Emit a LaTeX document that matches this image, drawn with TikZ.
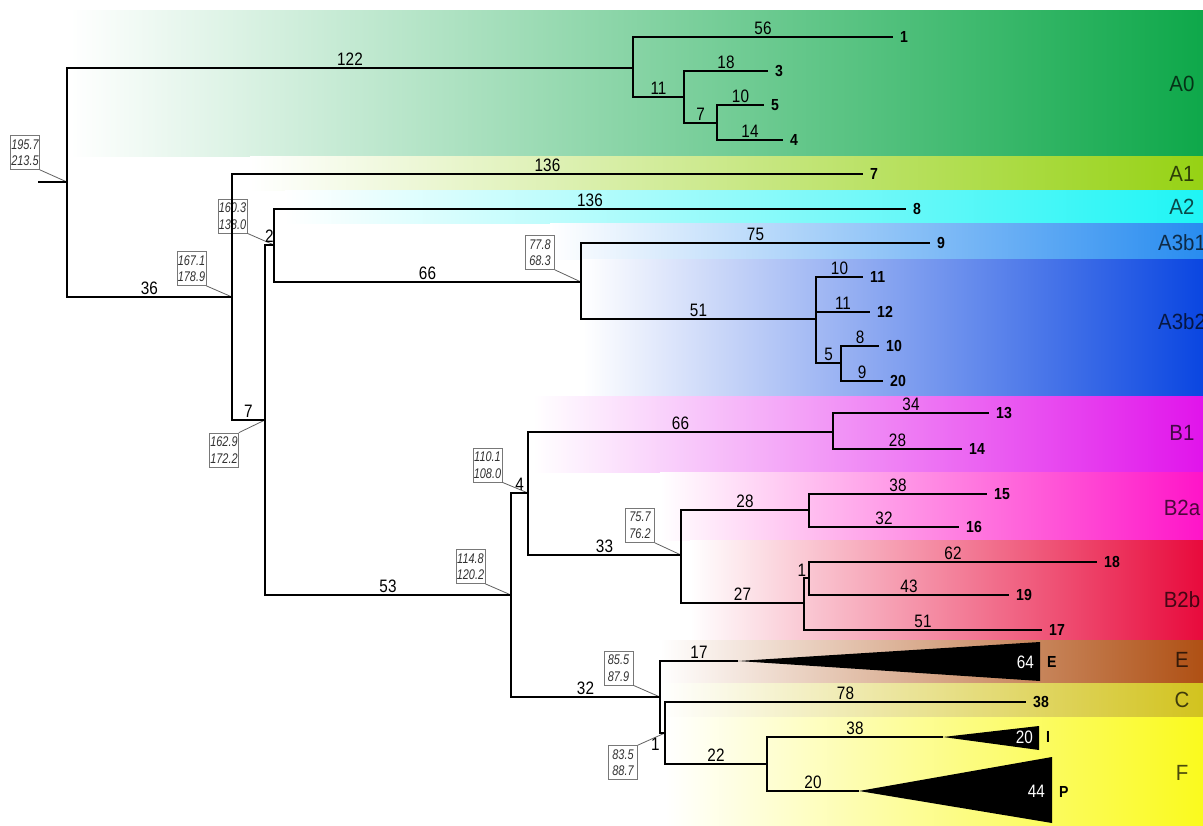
\documentclass[tikz,border=0pt]{standalone}
\usepackage{fontspec}
\setmainfont{Liberation Sans}
\newfontfamily\nsans[FakeStretch=0.85]{Liberation Sans}
\newfontfamily\csans[FakeStretch=0.93]{Liberation Sans}
\newfontfamily\bsans[FakeStretch=0.88]{Liberation Sans}
\newfontfamily\isans[FakeStretch=0.78]{Liberation Sans}
\definecolor{cAzero}{RGB}{14,168,74}
\definecolor{cAone}{RGB}{150,210,20}
\definecolor{cAtwo}{RGB}{30,245,245}
\definecolor{cAthbone}{RGB}{40,140,240}
\definecolor{cAthbtwo}{RGB}{10,70,225}
\definecolor{cBone}{RGB}{225,20,235}
\definecolor{cBtwoa}{RGB}{255,20,200}
\definecolor{cBtwob}{RGB}{232,10,60}
\definecolor{cE}{RGB}{175,80,20}
\definecolor{cC}{RGB}{210,195,30}
\definecolor{cF}{RGB}{250,250,30}
\definecolor{boxgray}{RGB}{120,120,120}
\definecolor{boxtext}{RGB}{50,50,50}
\tikzset{
  edge/.style={line width=1.8pt, black},
  blfont/.style={font=\nsans\fontsize{18}{18}\selectfont},
  bl/.style={blfont, inner sep=1pt, above=0.2pt},
  leaf/.style={font=\bsans\bfseries\fontsize{16}{16}\selectfont, anchor=west, inner sep=0pt, xshift=7pt},
  tri/.style={fill=black},
  wnum/.style={blfont, text=white, anchor=east, inner sep=0pt},
  cbox/.style={draw=boxgray, fill=white, line width=0.7pt, font=\isans\itshape\fontsize{14}{16.5}\selectfont, text=boxtext, align=center, inner sep=0pt, minimum width=29pt, minimum height=34pt},
  lead/.style={draw=boxgray!80!black, line width=0.8pt},
  clade/.style={font=\csans\fontsize{22}{22}\selectfont, text=black, text opacity=0.7, inner sep=0pt}
}
\begin{document}
\begin{tikzpicture}[x=1pt,y=-1pt]
\useasboundingbox (0,0) rectangle (1203,826);
% bands
\shade[left color=white, right color=cAzero] (70,11) rectangle (1203,157);
\shade[left color=white, right color=cAone] (250,157) rectangle (1203,191);
\shade[left color=white, right color=cAtwo] (285,191) rectangle (1203,224);
\shade[left color=white, right color=cAthbone] (550,224) rectangle (1203,260);
\shade[left color=white, right color=cAthbtwo] (583,260) rectangle (1203,397);
\shade[left color=white, right color=cBone] (533,397) rectangle (1203,472);
\shade[left color=white, right color=cBtwoa] (660,472) rectangle (1203,540);
\shade[left color=white, right color=cBtwob] (690,540) rectangle (1203,640);
\shade[left color=white, right color=cE] (660,640) rectangle (1203,683);
\shade[left color=white, right color=cC] (660,683) rectangle (1203,717);
\shade[left color=white, right color=cF] (665,717) rectangle (1203,826);
% clade labels
\node[clade] (LA0) at (1182,84) {A0};
\node[clade] (LA1) at (1182,174) {A1};
\node[clade] (LA2) at (1182,207) {A2};
\node[clade] (LA3b1) at (1182,243) {A3b1};
\node[clade] (LA3b2) at (1182,322) {A3b2};
\node[clade] (LB1) at (1182,433) {B1};
\node[clade] (LB2a) at (1182,508) {B2a};
\node[clade] (LB2b) at (1182,600) {B2b};
\node[clade] (LE) at (1182,660) {E};
\node[clade] (LC) at (1182,700) {C};
\node[clade] (LF) at (1182,773) {F};
% coordinates
\coordinate (stub) at (38,182);
\coordinate (R) at (67,182);
\coordinate (nA0) at (633,68);
\coordinate (n11) at (684,97);
\coordinate (n7a) at (717,123);
\coordinate (t1) at (893,37);
\coordinate (t3) at (768,71);
\coordinate (t5) at (764,105);
\coordinate (t4) at (783,140);
\coordinate (n36) at (232,297);
\coordinate (t7) at (863,174);
\coordinate (n7b) at (265,420);
\coordinate (n2) at (274,245);
\coordinate (t8) at (906,209);
\coordinate (n66) at (581,282);
\coordinate (t9) at (930,243);
\coordinate (n51) at (816,319);
\coordinate (t11) at (863,277);
\coordinate (t12) at (870,312);
\coordinate (n5) at (841,363);
\coordinate (t10) at (879,346);
\coordinate (t20) at (883,381);
\coordinate (n53) at (511,595);
\coordinate (n4) at (528,493);
\coordinate (nB1) at (833,432);
\coordinate (t13) at (989,413);
\coordinate (t14) at (962,449);
\coordinate (n33) at (681,555);
\coordinate (nB2a) at (809,510);
\coordinate (t15) at (987,494);
\coordinate (t16) at (959,527);
\coordinate (nB2b) at (804,603);
\coordinate (n1b) at (809,578);
\coordinate (t18) at (1097,562);
\coordinate (t19) at (1009,595);
\coordinate (t17) at (1042,630);
\coordinate (n32) at (660,697);
\coordinate (aE) at (738,661);
\coordinate (eT) at (1040,642);
\coordinate (eB) at (1040,681);
\coordinate (n1c) at (665,733);
\coordinate (tC) at (1026,702);
\coordinate (n22) at (767,764);
\coordinate (aI) at (943,737);
\coordinate (iT) at (1039,726);
\coordinate (iB) at (1039,750);
\coordinate (aP) at (859,791);
\coordinate (pT) at (1052,757);
\coordinate (pB) at (1052,823);
% boxes
\node[cbox] (b1) at (25,152.5) {195.7\\213.5};
\node[cbox] (b2) at (191.5,268.5) {167.1\\178.9};
\node[cbox] (b3) at (232.5,216) {160.3\\138.0};
\node[cbox] (b4) at (224,450) {162.9\\172.2};
\node[cbox] (b5) at (540,252.5) {77.8\\68.3};
\node[cbox] (b6) at (487.5,465) {110.1\\108.0};
\node[cbox] (b7) at (470.5,566.5) {114.8\\120.2};
\node[cbox] (b8) at (640,525.5) {75.7\\76.2};
\node[cbox] (b9) at (618.5,668) {85.5\\87.9};
\node[cbox] (b10) at (623,762.5) {83.5\\88.7};
% leaders
\draw[lead] (b1.south east) -- (R);
\draw[lead] (b2.south east) -- (n36);
\draw[lead] (b3.south east) -- (n2);
\draw[lead] (b4.north east) -- (n7b);
\draw[lead] (b5.south east) -- (n66);
\draw[lead] (b6.south east) -- (n4);
\draw[lead] (b7.south east) -- (n53);
\draw[lead] (b8.south east) -- (n33);
\draw[lead] (b9.south east) -- (n32);
\draw[lead] (b10.north east) -- (n1c);
% edges
\draw[edge] (stub) -- (R);
\draw[edge] (R) |- node[bl,pos=.75]{122} (nA0);
\draw[edge] (nA0) |- node[bl,pos=.75]{56} (t1);
\draw[edge] (nA0) |- node[bl,pos=.75]{11} (n11);
\draw[edge] (n11) |- node[bl,pos=.75]{18} (t3);
\draw[edge] (n11) |- node[bl,pos=.75]{7} (n7a);
\draw[edge] (n7a) |- node[bl,pos=.75]{10} (t5);
\draw[edge] (n7a) |- node[bl,pos=.75]{14} (t4);
\draw[edge] (R) |- node[bl,pos=.75]{36} (n36);
\draw[edge] (n36) |- node[bl,pos=.75]{136} (t7);
\draw[edge] (n36) |- node[bl,pos=.75]{7} (n7b);
\draw[edge] (n7b) |- node[bl,pos=.75]{2} (n2);
\draw[edge] (n2) |- node[bl,pos=.75]{136} (t8);
\draw[edge] (n2) |- node[bl,pos=.75]{66} (n66);
\draw[edge] (n66) |- node[bl,pos=.75]{75} (t9);
\draw[edge] (n66) |- node[bl,pos=.75]{51} (n51);
\draw[edge] (n51) |- node[bl,pos=.75]{10} (t11);
\draw[edge] (n51) |- node[bl,pos=.75]{11} (t12);
\draw[edge] (n51) |- node[bl,pos=.75]{5} (n5);
\draw[edge] (n5) |- node[bl,pos=.75]{8} (t10);
\draw[edge] (n5) |- node[bl,pos=.75]{9} (t20);
\draw[edge] (n7b) |- node[bl,pos=.75]{53} (n53);
\draw[edge] (n53) |- node[bl,pos=.75]{4} (n4);
\draw[edge] (n4) |- node[bl,pos=.75]{66} (nB1);
\draw[edge] (nB1) |- node[bl,pos=.75]{34} (t13);
\draw[edge] (nB1) |- node[bl,pos=.75]{28} (t14);
\draw[edge] (n4) |- node[bl,pos=.75]{33} (n33);
\draw[edge] (n33) |- node[bl,pos=.75]{28} (nB2a);
\draw[edge] (nB2a) |- node[bl,pos=.75]{38} (t15);
\draw[edge] (nB2a) |- node[bl,pos=.75]{32} (t16);
\draw[edge] (n33) |- node[bl,pos=.75]{27} (nB2b);
\draw[edge] (nB2b) |- node[blfont,pos=.75,anchor=south east,inner sep=1pt,xshift=1.5pt]{1} (n1b);
\draw[edge] (n1b) |- node[bl,pos=.75]{62} (t18);
\draw[edge] (n1b) |- node[bl,pos=.75]{43} (t19);
\draw[edge] (nB2b) |- node[bl,pos=.75]{51} (t17);
\draw[edge] (n53) |- node[bl,pos=.75]{32} (n32);
\draw[edge] (n32) |- node[bl,pos=.75]{17} (aE);
\draw[edge] (n32) |- node[blfont,pos=.75,anchor=north east,inner sep=1pt,yshift=-3pt,xshift=-1pt]{1} (n1c);
\draw[edge] (n1c) |- node[bl,pos=.75]{78} (tC);
\draw[edge] (n1c) |- node[bl,pos=.75]{22} (n22);
\draw[edge] (n22) |- node[bl,pos=.75]{38} (aI);
\draw[edge] (n22) |- node[bl,pos=.75]{20} (aP);
% collapsed clades
\fill[tri] (aE) -- (eT) -- (eB) -- cycle;
\fill[tri] (aI) -- (iT) -- (iB) -- cycle;
\fill[tri] (aP) -- (pT) -- (pB) -- cycle;
\node[wnum] (wE) at (1034,662) {64};
\node[wnum] (wI) at (1033,737) {20};
\node[wnum] (wP) at (1045,791) {44};
% leaf labels
\node[leaf] (l1) at (t1) {1};
\node[leaf] (l3) at (t3) {3};
\node[leaf] (l5) at (t5) {5};
\node[leaf] (l4) at (t4) {4};
\node[leaf] (l7) at (t7) {7};
\node[leaf] (l8) at (t8) {8};
\node[leaf] (l9) at (t9) {9};
\node[leaf] (l11) at (t11) {11};
\node[leaf] (l12) at (t12) {12};
\node[leaf] (l10) at (t10) {10};
\node[leaf] (l20) at (t20) {20};
\node[leaf] (l13) at (t13) {13};
\node[leaf] (l14) at (t14) {14};
\node[leaf] (l15) at (t15) {15};
\node[leaf] (l16) at (t16) {16};
\node[leaf] (l18) at (t18) {18};
\node[leaf] (l19) at (t19) {19};
\node[leaf] (l17) at (t17) {17};
\node[leaf] (lC) at (tC) {38};
\node[leaf] (lE) at (1040,662) {E};
\node[leaf] (lI) at (1039,737) {I};
\node[leaf] (lP) at (1052,792) {P};
\end{tikzpicture}
\end{document}
